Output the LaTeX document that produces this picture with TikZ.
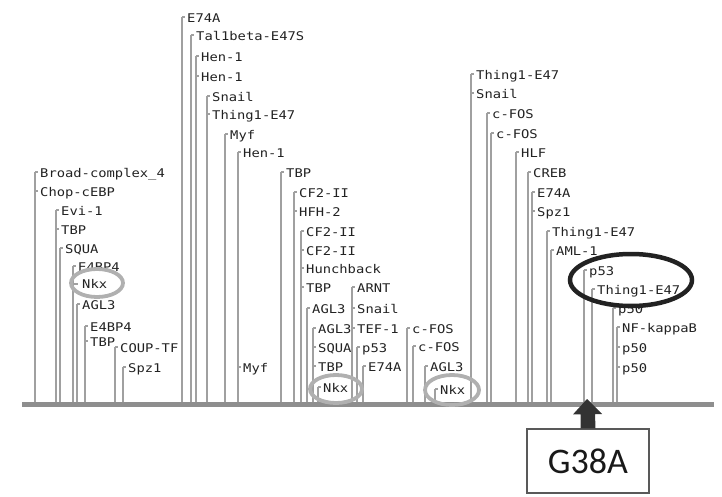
\documentclass[tikz,border=0pt]{standalone}
\usepackage{fontspec}
\newfontfamily\lblfont[FakeStretch=1.15]{DejaVu Sans Mono}
\newfontfamily\boxfont{Carlito}
\definecolor{linegray}{HTML}{A0A0A0}
\definecolor{basegray}{HTML}{8E8E8E}
\definecolor{txtc}{HTML}{222222}
\definecolor{ringgray}{HTML}{B0B0B0}
\definecolor{ringdark}{HTML}{222222}
\definecolor{arrowc}{HTML}{333333}
\tikzset{
  vline/.style={draw=linegray, line width=1.5pt},
  lbl/.style={anchor=base west, inner sep=0pt, text=txtc, font=\lblfont\fontsize{12}{12}\selectfont},
  baseln/.style={draw=basegray, line width=5pt},
  ring/.style={draw=ringgray, line width=3.8pt},
  darkring/.style={draw=ringdark, line width=4.5pt},
  mutbox/.style={draw=black!65, line width=1.2pt, minimum width=122pt, minimum height=64pt, inner sep=0pt, font=\boxfont\fontsize{36}{36}\selectfont, text=black!90}
}
% vertical site line from the base line up to its first label
\newcommand\siteline[2]{\draw[vline] (#1,404) -- (#1,#2-1);}
% label with its small tick: name, line x, label y, text
\newcommand\sitelabel[4]{\draw[vline] (#2,#3-1) -- ++(3,0); \node[lbl] (#1) at (#2+5,#3+4.5) {#4};}
\begin{document}
\begin{tikzpicture}[x=1pt,y=-1pt]
\useasboundingbox (0,0) rectangle (722,497);
% ---------------- left block
\siteline{35}{173}\sitelabel{a1}{35}{173}{Broad-complex\_4}\sitelabel{a2}{35}{192}{Chop-cEBP}
\siteline{56}{211}\sitelabel{b1}{56}{211}{Evi-1}\sitelabel{b2}{56}{230}{TBP}
\siteline{60}{249}\sitelabel{c1}{60}{249}{SQUA}
\siteline{73}{267}\sitelabel{d1}{73}{267}{E4BP4}
\draw[vline] (73,284) -- ++(5,0); \node[lbl] (d2) at (82,288.5) {Nkx};
\siteline{77}{305}\sitelabel{e1}{77}{305}{AGL3}
\siteline{85}{327}\sitelabel{f1}{85}{327}{E4BP4}\sitelabel{f2}{85}{342}{TBP}
\siteline{115}{348}\sitelabel{g1}{115}{348}{COUP-TF}
\siteline{123}{368}\sitelabel{h1}{123}{368}{Spz1}
% ---------------- middle block
\siteline{182}{18}\sitelabel{i1}{182}{18}{E74A}
\siteline{191}{36}\sitelabel{j1}{191}{36}{Tal1beta-E47S}
\siteline{196}{57}\sitelabel{k1}{196}{57}{Hen-1}\sitelabel{k2}{196}{77}{Hen-1}
\siteline{207}{97}\sitelabel{l1}{207}{97}{Snail}\sitelabel{l2}{207}{115}{Thing1-E47}
\siteline{225}{135}\sitelabel{m1}{225}{135}{Myf}
\siteline{238}{153}\sitelabel{n1}{238}{153}{Hen-1}\sitelabel{n2}{238}{368}{Myf}
\siteline{281}{173}\sitelabel{o1}{281}{173}{TBP}
\siteline{294}{193}\sitelabel{p1}{294}{193}{CF2-II}\sitelabel{p2}{294}{212}{HFH-2}
\siteline{301}{232}\sitelabel{q1}{301}{232}{CF2-II}\sitelabel{q2}{301}{251}{CF2-II}\sitelabel{q3}{301}{269}{Hunchback}\sitelabel{q4}{301}{288}{TBP}
\siteline{307}{309}\sitelabel{r1}{307}{309}{AGL3}
\siteline{313}{329}\sitelabel{s1}{313}{329}{AGL3}\sitelabel{s2}{313}{348}{SQUA}\sitelabel{s3}{313}{367}{TBP}
\siteline{318}{388}\sitelabel{t1}{318}{388}{Nkx}
\siteline{352}{288}\sitelabel{u1}{352}{288}{ARNT}\sitelabel{u2}{352}{309}{Snail}\sitelabel{u3}{352}{329}{TEF-1}
\siteline{357}{348}\sitelabel{v1}{357}{348}{p53}
\siteline{363}{367}\sitelabel{w1}{363}{367}{E74A}
% ---------------- right block
\siteline{407}{329}\sitelabel{x1}{407}{329}{c-FOS}
\siteline{413}{347}\sitelabel{y1}{413}{347}{c-FOS}
\siteline{425}{367}\sitelabel{z1}{425}{367}{AGL3}
\siteline{435}{390}\sitelabel{aa1}{435}{390}{Nkx}
\siteline{471}{75}\sitelabel{ab1}{471}{75}{Thing1-E47}\sitelabel{ab2}{471}{94}{Snail}
\siteline{487}{114}\sitelabel{ac1}{487}{114}{c-FOS}
\siteline{491}{134}\sitelabel{ad1}{491}{134}{c-FOS}
\siteline{516}{153}\sitelabel{ae1}{516}{153}{HLF}
\siteline{528}{173}\sitelabel{af1}{528}{173}{CREB}
\siteline{532}{193}\sitelabel{ag1}{532}{193}{E74A}\sitelabel{ag2}{532}{212}{Spz1}
\siteline{547}{232}\sitelabel{ah1}{547}{232}{Thing1-E47}
\siteline{551}{251}\sitelabel{ai1}{551}{251}{AML-1}
\siteline{584}{271}\sitelabel{aj1}{584}{271}{p53}
\siteline{592}{290}\sitelabel{ak1}{592}{290}{Thing1-E47}
\siteline{613}{309}\sitelabel{al1}{613}{309}{p50}
\siteline{617}{328}\sitelabel{am1}{617}{328}{NF-kappaB}\sitelabel{am2}{617}{348}{p50}\sitelabel{am3}{617}{368}{p50}
% ---------------- base line
\coordinate (bl) at (22,404);
\coordinate (br) at (714,404);
\draw[baseln] (bl) -- (br);
% ---------------- rings
\draw[ring] (97,283) ellipse [x radius=26, y radius=14];
\draw[ring] (336,389) ellipse [x radius=26, y radius=14];
\draw[ring] (452,390) ellipse [x radius=27, y radius=15];
\draw[darkring] (631,280) ellipse [x radius=61, y radius=26];
% ---------------- mutation box and arrow
\node[mutbox] (mut) at (588,461) {G38A};
\coordinate (tip) at (587,399);
\fill[arrowc] ([xshift=-7.5pt]mut.north) -- ++(0,-14) -- ++(-7.5,0) -- (tip) -- ++(15,15) -- ++(-7,0) -- ([xshift=7.5pt]mut.north) -- cycle;
\end{tikzpicture}
\end{document}
